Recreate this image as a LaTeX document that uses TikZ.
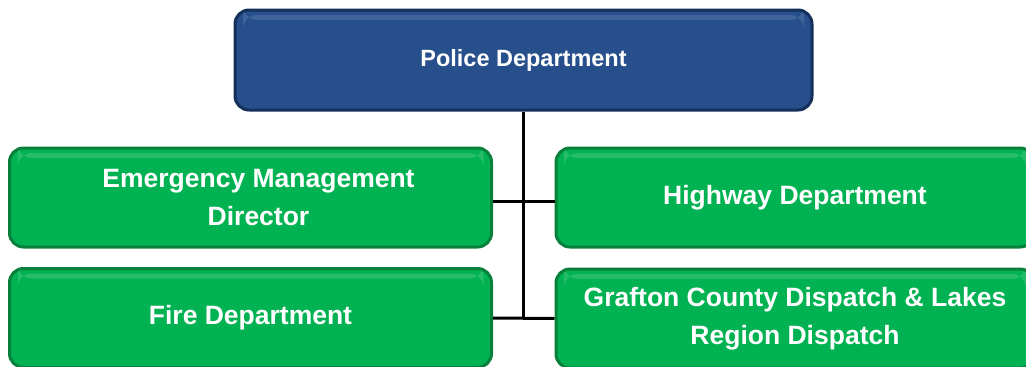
\documentclass[tikz,border=0pt]{standalone}
\usepackage{fontspec}
\setmainfont{Liberation Sans}
\usepackage{tikz}

\definecolor{DeptBlue}{HTML}{264F8B}
\definecolor{DeptBlueDark}{HTML}{15305A}
\definecolor{UnitGreen}{HTML}{00B251}
\definecolor{UnitGreenDark}{HTML}{06803A}

\tikzset{
  deptbox/.style = {rounded corners = 14pt, fill = DeptBlue, draw = DeptBlueDark,
    line width = 3pt, text = white, font = \bfseries\fontsize{23.5}{28}\selectfont,
    align = center, inner sep = 0pt,
    path picture = {\fill [white, opacity = .12]
      ([xshift = 8pt, yshift = -5pt]path picture bounding box.north west) rectangle
      ([xshift = -8pt, yshift = -10pt]path picture bounding box.north east);}},
  unitbox/.style = {rounded corners = 14pt, fill = UnitGreen, draw = UnitGreenDark,
    line width = 3pt, text = white, font = \bfseries\fontsize{26.5}{37.5}\selectfont,
    align = center, inner sep = 0pt, minimum height = 99pt,
    path picture = {\fill [white, opacity = .15]
      ([xshift = 8pt, yshift = -5pt]path picture bounding box.north west) rectangle
      ([xshift = -8pt, yshift = -10pt]path picture bounding box.north east);}},
  link/.style = {line width = 3pt, draw = black}
}

\begin{document}
\begin{tikzpicture}[x = 1pt, y = -1pt]
              \useasboundingbox (0, 0) rectangle (1026, 367);
              % boss
              \node [deptbox, minimum width = 577pt, minimum height = 100pt] (police) at (523.5, 60) {Police Department};
              % units
              \node [unitbox, minimum width = 482pt] (emd) at (250.5, 197.5) {\hspace*{16pt}Emergency Management\\\hspace*{16pt}Director};
              \node [unitbox, minimum width = 478pt] (highway) at (795, 197.5) {Highway Department};
              \node [unitbox, minimum width = 482pt] (fire) at (250.5, 318) {Fire Department};
              \node [unitbox, minimum width = 478pt] (dispatch) at (795, 318.5) {Grafton County Dispatch \& Lakes\\Region Dispatch};
              % lines
              \draw [link] (police.south) -- (police.south |- fire.east);
              \draw [link] ([yshift = -4pt]emd.east) -- ([yshift = -4pt]highway.west);
              \draw [link] (fire.east) -- (dispatch.west);
\end{tikzpicture}
\end{document}
